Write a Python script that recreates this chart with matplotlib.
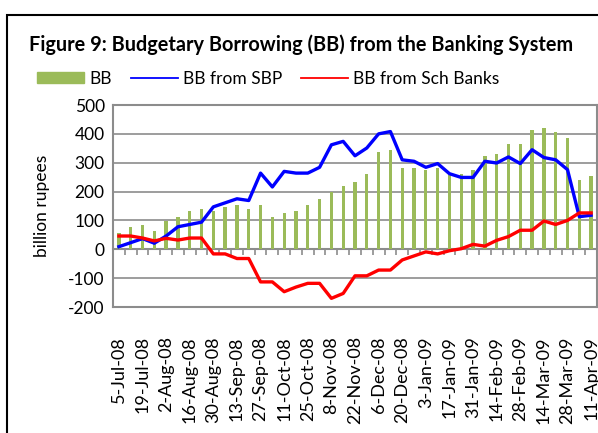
import matplotlib
matplotlib.use('Agg')
import matplotlib.pyplot as plt
import numpy as np
from matplotlib.lines import Line2D
from matplotlib.patches import Patch, Rectangle

plt.rcParams['font.family'] = ['Lato', 'DejaVu Sans']
plt.rcParams['axes.unicode_minus'] = False

# weekly dates
dates = ['5-Jul-08', '12-Jul-08', '19-Jul-08', '26-Jul-08', '2-Aug-08', '9-Aug-08',
         '16-Aug-08', '23-Aug-08', '30-Aug-08', '6-Sep-08', '13-Sep-08', '20-Sep-08',
         '27-Sep-08', '4-Oct-08', '11-Oct-08', '18-Oct-08', '25-Oct-08', '1-Nov-08',
         '8-Nov-08', '15-Nov-08', '22-Nov-08', '29-Nov-08', '6-Dec-08', '13-Dec-08',
         '20-Dec-08', '27-Dec-08', '3-Jan-09', '10-Jan-09', '17-Jan-09', '24-Jan-09',
         '31-Jan-09', '7-Feb-09', '14-Feb-09', '21-Feb-09', '28-Feb-09', '7-Mar-09',
         '14-Mar-09', '21-Mar-09', '28-Mar-09', '4-Apr-09', '11-Apr-09']

bb = [57, 78, 85, 63, 98, 113, 132, 140, 131, 146, 153, 139, 153, 111, 125, 132,
      153, 175, 200, 220, 234, 262, 338, 344, 283, 283, 276, 283, 259, 262, 276,
      324, 331, 366, 366, 414, 420, 406, 385, 241, 255]
bb_sbp = [9, 23, 37, 21, 46, 78, 86, 94, 147, 161, 175, 169, 264, 216, 270, 264,
          264, 284, 362, 374, 324, 351, 400, 408, 310, 305, 284, 297, 262, 249, 249,
          305, 299, 320, 297, 345, 318, 310, 276, 113, 118]
bb_sch = [46, 46, 39, 29, 38, 32, 39, 39, -16, -16, -32, -32, -113, -113, -147, -131,
          -118, -118, -170, -153, -92, -92, -72, -72, -37, -23, -9, -16, -5, 2, 17,
          11, 31, 44, 66, 66, 98, 86, 100, 126, 126]

W, H = 598, 433
fig = plt.figure(figsize=(W / 100, H / 100), dpi=100)
ax = fig.add_axes([113 / W, 1 - 307 / H, 484 / W, 202 / H])

x = np.arange(len(dates))
ax.bar(x, bb, width=0.28, color='#9BBB59', zorder=2)
ax.plot(x, bb_sbp, color='#0000FF', lw=2.4, zorder=3)
ax.plot(x, bb_sch, color='#FF0000', lw=2.4, zorder=3)

ax.set_xlim(-0.5, len(dates) - 0.5)
ax.set_ylim(-200, 500)
ax.set_yticks(range(-200, 501, 100))
ax.yaxis.grid(True, color='#8c8c8c', lw=1.2, zorder=0)
ax.tick_params(axis='y', length=0, labelsize=12.5, pad=6)
for s in ax.spines.values():
    s.set_color('#8c8c8c')
    s.set_linewidth(1.5)

ax.set_xticks(x[::2])
ax.set_xticklabels(dates[::2], rotation=90, fontsize=13)
ax.tick_params(axis='x', length=0, pad=21)

# category axis drawn at zero with boundary tick marks
zero_ax = ax.secondary_xaxis(200 / 700)
zero_ax.set_xticks(np.arange(len(dates) + 1) - 0.5)
zero_ax.tick_params(axis='x', direction='out', length=4, color='#8c8c8c', width=1.2,
                    labelbottom=False, labeltop=False)
zero_ax.spines['bottom'].set_color('#8c8c8c')
zero_ax.spines['bottom'].set_linewidth(1.5)

ax.set_ylabel('billion rupees', fontsize=12.5, labelpad=13)

fig.text(0.503, 1 - 45 / H, 'Figure 9: Budgetary Borrowing (BB) from the Banking System',
         ha='center', va='center', fontsize=14.3, fontweight='bold')

handles = [Patch(color='#9BBB59'),
           Line2D([], [], color='#0000FF', lw=1.3),
           Line2D([], [], color='#FF0000', lw=1.3)]
fig.legend(handles, ['BB', 'BB from SBP', 'BB from Sch Banks'], loc='center',
           bbox_to_anchor=(0.449, 1 - 79 / H), ncol=3, frameon=False, fontsize=12.5,
           handlelength=2.7, handleheight=0.6, columnspacing=1.1, handletextpad=0.3)

fig.patches.append(Rectangle((7 / W, -0.1), 1.2, 1.1 - 15 / H, transform=fig.transFigure,
                             fill=False, edgecolor='black', lw=1.5))

fig.savefig('out.png', dpi=100)
